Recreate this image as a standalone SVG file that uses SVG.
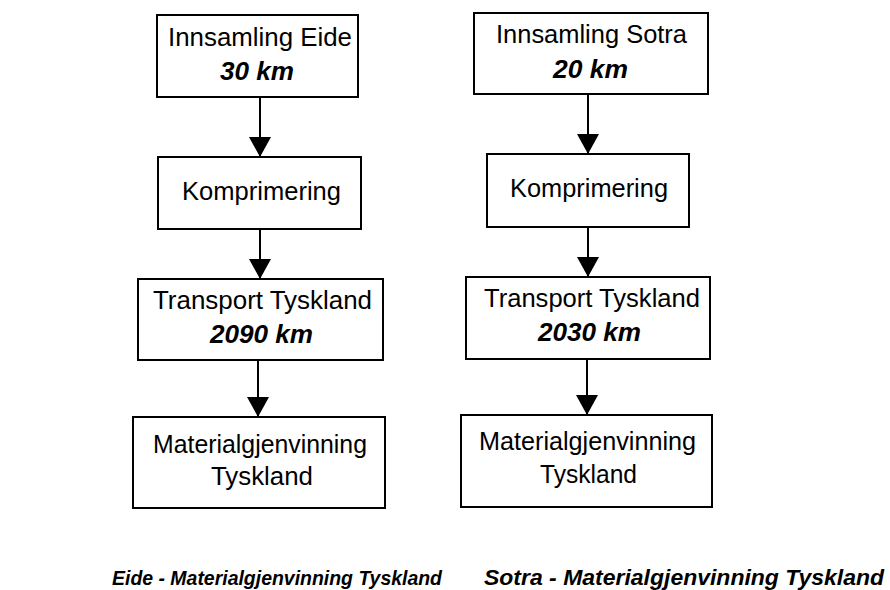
<svg xmlns="http://www.w3.org/2000/svg" width="890" height="590" viewBox="0 0 890 590">
<style>
.box{fill:#fff;stroke:#000;stroke-width:2}
.t{font-family:"Liberation Sans",Arial,sans-serif;font-size:25px;fill:#000;text-anchor:middle}
.b{font-weight:bold;font-style:italic}
.cap{font-family:"Liberation Sans",Arial,sans-serif;font-weight:bold;font-style:italic;fill:#000}
.c{stroke:#000;stroke-width:2;fill:none;marker-end:url(#ah)}
</style>
<defs>
<marker id="ah" markerUnits="userSpaceOnUse" markerWidth="20" markerHeight="22" viewBox="0 0 20 22" refX="20" refY="11" orient="auto">
<path d="M0,0 L20,11 L0,22 z" fill="#000"/>
</marker>
</defs>
<rect width="890" height="590" fill="#fff"/>
<g id="connectors">
<line class="c" x1="260" y1="97" x2="260" y2="157"/>
<line class="c" x1="260" y1="229" x2="260" y2="279"/>
<line class="c" x1="258" y1="360" x2="258" y2="417"/>
<line class="c" x1="588" y1="94" x2="588" y2="154"/>
<line class="c" x1="588" y1="227" x2="588" y2="277"/>
<line class="c" x1="587" y1="359" x2="587" y2="415"/>
</g>
<g id="eide-innsamling">
<rect class="box" x="157" y="15" width="201" height="82"/>
<text class="t" x="260" y="46" textLength="184" lengthAdjust="spacingAndGlyphs">Innsamling Eide</text>
<text class="t b" x="257" y="80" textLength="74" lengthAdjust="spacingAndGlyphs">30 km</text>
</g>
<g id="eide-komprimering">
<rect class="box" x="158" y="157" width="203" height="72"/>
<text class="t" x="261.5" y="200" textLength="159" lengthAdjust="spacingAndGlyphs">Komprimering</text>
</g>
<g id="eide-transport">
<rect class="box" x="138" y="279" width="245" height="81"/>
<text class="t" x="262.5" y="309" textLength="219" lengthAdjust="spacingAndGlyphs">Transport Tyskland</text>
<text class="t b" x="261.5" y="343" textLength="103" lengthAdjust="spacingAndGlyphs">2090 km</text>
</g>
<g id="eide-material">
<rect class="box" x="133" y="417" width="252" height="91"/>
<text class="t" x="260" y="453" textLength="214" lengthAdjust="spacingAndGlyphs">Materialgjenvinning</text>
<text class="t" x="262" y="485" textLength="102" lengthAdjust="spacingAndGlyphs">Tyskland</text>
</g>
<g id="sotra-innsamling">
<rect class="box" x="474" y="13" width="234" height="81"/>
<text class="t" x="591.5" y="43" textLength="191" lengthAdjust="spacingAndGlyphs">Innsamling Sotra</text>
<text class="t b" x="590.5" y="78" textLength="75" lengthAdjust="spacingAndGlyphs">20 km</text>
</g>
<g id="sotra-komprimering">
<rect class="box" x="487" y="154" width="202" height="73"/>
<text class="t" x="589" y="197" textLength="158" lengthAdjust="spacingAndGlyphs">Komprimering</text>
</g>
<g id="sotra-transport">
<rect class="box" x="466" y="277" width="244" height="82"/>
<text class="t" x="592" y="307" textLength="216" lengthAdjust="spacingAndGlyphs">Transport Tyskland</text>
<text class="t b" x="589.5" y="341" textLength="103" lengthAdjust="spacingAndGlyphs">2030 km</text>
</g>
<g id="sotra-material">
<rect class="box" x="461" y="415" width="251" height="92"/>
<text class="t" x="587.5" y="450" textLength="217" lengthAdjust="spacingAndGlyphs">Materialgjenvinning</text>
<text class="t" x="588.5" y="483" textLength="97" lengthAdjust="spacingAndGlyphs">Tyskland</text>
</g>
<g id="captions">
<text class="cap" x="112" y="585" font-size="21" textLength="330" lengthAdjust="spacingAndGlyphs">Eide - Materialgjenvinning Tyskland</text>
<text class="cap" x="484" y="585" font-size="22" textLength="400" lengthAdjust="spacingAndGlyphs">Sotra - Materialgjenvinning Tyskland</text>
</g>
</svg>
